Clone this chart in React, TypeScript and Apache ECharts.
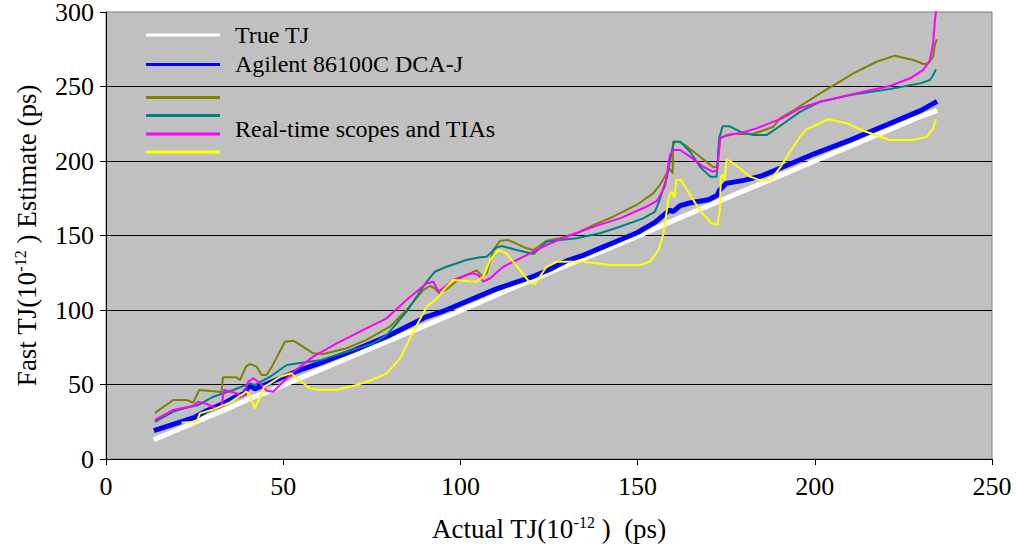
import React, { useEffect, useRef } from "react";
import * as echarts from "echarts";

const FONT = "Times New Roman, Liberation Serif, serif";

const trueTJ: number[][] = [
  [13.5, 13], [20, 19.5], [25, 24.5], [30, 29.5], [35, 34.5], [40, 40], [45, 44.5], [50, 49.5],
  [60, 59.5], [70, 69.5], [80, 79.5], [90, 89.5], [100, 99.5], [110, 110], [120, 120],
  [130, 130], [140, 139.5], [150, 149.5], [160, 160], [170, 170], [180, 180], [190, 190],
  [200, 200], [210, 210], [220, 220], [230, 230], [234.5, 234],
];

const agilent: number[][] = [
  [13.5, 19], [20, 24], [25, 28], [28, 32], [33, 37], [36, 41], [39, 44], [40.5, 49.5], [42, 47],
  [45, 50], [50, 55], [55, 60], [60, 64], [70, 73], [80, 83], [90, 95], [95, 99], [100, 104],
  [105, 109], [110, 114], [115, 118], [120, 122], [125, 127], [130, 133], [135, 137], [140, 142],
  [145, 147], [150, 152], [155, 159], [159, 167], [160, 166], [162, 170], [165, 172], [170, 174],
  [172.5, 177], [173, 180], [175, 185], [180, 187], [185, 190], [190, 195], [200, 205],
  [210, 214], [220, 224], [230, 234], [234.5, 240],
];

const olive: number[][] = [
  [13.8, 31], [19, 39.6], [22.8, 39.6], [24.6, 37.8], [26.3, 46.3], [32.6, 45], [33, 54.8],
  [36.8, 54.8], [37.8, 53], [39.5, 62], [40.6, 63.8], [42.5, 62], [43.9, 56.4], [45.3, 56.4],
  [46.8, 62], [50.5, 78.7], [52.9, 79.4], [58.5, 70.9], [61.3, 70.5], [67.9, 74.3], [73.5, 79.9],
  [80.1, 88.8], [84.8, 100], [89.5, 113.4], [91.4, 116.1], [92.8, 114.6], [94, 111.2],
  [96.1, 113.9], [99.9, 121.3], [102.7, 124.6], [104.6, 126.6], [106.3, 122.4], [107.4, 124.6],
  [109.3, 140.3], [111.2, 146.5], [113.5, 147], [118.7, 141.4], [120.6, 140.3], [124.3, 146.5],
  [128.1, 148.1], [132.8, 151.5], [137.5, 157], [143.1, 162.6], [149.7, 170.5], [154.4, 178.3],
  [156.3, 184], [159, 195], [159.9, 191.7], [160, 213], [161.8, 213], [163.4, 210.7],
  [167.6, 202.9], [171.4, 195.8], [172.5, 196.2], [172.8, 202.9], [173.3, 215.2], [174.2, 216.3],
  [177, 218.1], [182.6, 218.1], [188.3, 223], [190.2, 228.7], [194.9, 235.4], [201.5, 245.4],
  [210.9, 258.8], [217.4, 266.6], [222.6, 270.7], [227.8, 267.8], [230.6, 265.1], [232, 265.5],
  [233.4, 270], [233.9, 277.9], [234.4, 281.7],
];

const teal: number[][] = [
  [13.8, 25], [19, 31.8], [23.7, 35.1], [26, 36.2], [30.3, 41.8], [35.9, 46.3], [40.6, 50.8],
  [42, 49.7], [46.3, 55.2], [51, 63.1], [55.7, 64.8], [60.4, 66.2], [67.9, 72], [75.4, 77.6],
  [79.2, 83.2], [84.8, 98.9], [90.5, 119], [92.8, 125.7], [96.1, 129], [101.7, 133.6],
  [105.5, 135.4], [107.4, 135.8], [110.2, 142], [111.6, 143], [115.9, 140.3], [120.6, 137.6],
  [124.3, 145.8], [128.1, 147], [132.8, 148.1], [139.4, 151.5], [145, 155.9], [151.6, 161.5],
  [154.9, 166], [156.2, 173.8], [158.2, 188.4], [159.6, 206.2], [160.3, 213], [162, 213],
  [164.8, 206.2], [167.6, 196.2], [170.5, 189.5], [172.3, 189.5], [173, 215.2], [174, 223.3],
  [176, 223.3], [178.9, 219.7], [182.6, 217.4], [186.4, 217.4], [190.2, 223.5], [195.8, 233],
  [201.5, 239.8], [210.9, 244.7], [221.2, 248.3], [229.7, 252.1], [232.5, 254.4],
  [233.4, 257.7], [234.2, 261.5],
];

const magenta: number[][] = [
  [13.8, 26.2], [19, 32.9], [24.6, 35.6], [26, 38.5], [28.4, 36.9], [31.2, 34], [32.6, 35.1],
  [33.3, 46.3], [36.8, 44.1], [38.7, 41.8], [40.1, 51.9], [41.6, 54.2], [43.5, 50.8],
  [45.3, 45.8], [47.2, 45.2], [52.9, 58.6], [58.5, 68.7], [65.1, 77.6], [72.6, 86.6],
  [79.2, 94.4], [84.8, 106.7], [90.5, 117.9], [92.4, 119], [93.8, 112.3], [98, 120.1],
  [101.7, 123.5], [103.6, 124.6], [105, 123.5], [106.5, 119], [108.4, 121.3], [112.1, 129],
  [118.7, 136.9], [124.3, 143.6], [130, 149.2], [137.5, 155.9], [145, 161.5], [152.5, 169.3],
  [155.4, 173], [157.7, 182.8], [159.1, 204], [160.1, 207.4], [162, 207.4], [164.8, 202.9],
  [168.5, 196.2], [171.2, 192.8], [172.5, 194], [173.3, 215.2], [175.1, 217.4], [178.9, 218.6],
  [183.6, 221.9], [188.3, 226.4], [190.2, 228], [195.8, 235.4], [201.5, 239.8], [210.9, 245],
  [221.2, 250.3], [226.9, 255.5], [230.6, 261.1], [232.5, 267.8], [233.4, 279], [233.9, 294.6],
  [234.2, 300.2], [234.5, 312],
];

const yellow: number[][] = [
  [21.3, 24.4], [25.6, 25], [26.5, 30.6], [30, 33], [35, 38], [39.7, 45.2], [40.6, 43], [42, 34],
  [43.5, 41.8], [44.6, 48.5], [46.3, 50.8], [49.1, 55.2], [52.2, 57.5], [55, 52], [57.6, 47.4],
  [60, 46.5], [65.1, 46.5], [70.7, 49.7], [75, 53], [79.2, 57.5], [83, 67.5], [86.7, 85.5],
  [90.5, 102.2], [93.3, 107.5], [96.1, 115.7], [98, 120.1], [101.7, 119.5], [104.6, 119],
  [106.5, 122.4], [108.4, 133.6], [110.7, 140.3], [113, 138], [116.8, 126.8], [119.6, 118.3],
  [121, 117.4], [124.3, 129], [127.2, 132.4], [134.7, 132.4], [142.2, 130.2], [150.7, 130.2],
  [153.5, 132.4], [155.9, 140.3], [157.3, 151.5], [158.8, 176], [159.7, 179.4], [160.4, 175],
  [160.9, 187.2], [162.3, 187.2], [165.1, 176], [167.9, 166], [170.8, 158.2], [172.5, 157],
  [173.2, 167.1], [173.5, 189.5], [174.2, 190.6], [174.5, 187.2], [175.1, 200.7], [176, 200.2],
  [178.9, 195], [181.7, 189.5], [184.5, 187.2], [187.4, 187.2], [190.2, 195.5], [193, 206.2],
  [195.8, 216.3], [197.7, 221.2], [203.8, 228], [209, 225.3], [213.7, 220.3], [221.2, 214.1],
  [227.8, 214.1], [231.6, 216.3], [233.4, 221.9], [234.2, 228],
];

const xTicks = { min: 0, max: 250, interval: 50 };
const yTicks = { min: 0, max: 300, interval: 50 };

const legendLabels = ["True TJ", "Agilent 86100C DCA-J", "Real-time scopes and TIAs"];
const colors = ["#ffffff", "#0000ff", "#808000", "#008080", "#ff00ff", "#ffff00"];

export default function App() {
  const ref = useRef<HTMLDivElement>(null);
  useEffect(() => {
    if (!ref.current) return;
    const chart = echarts.init(ref.current, null, { renderer: "svg" });
    const sup = { fontSize: 16, fontFamily: FONT, color: "#000", padding: [0, 0, 14, 0] };
    const lineSeries = (name: string, data: number[][], color: string, width: number) => ({
      type: "line",
      name,
      data,
      showSymbol: false,
      symbol: "none",
      clip: true,
      lineStyle: { color, width },
      itemStyle: { color },
    });
    const legendLine = (y: number, color: string) => ({
      type: "line",
      shape: { x1: 146, y1: y, x2: 220, y2: y },
      style: { stroke: color, lineWidth: 3 },
      z: 100,
    });
    const legendText = (y: number, text: string) => ({
      type: "text",
      x: 235,
      y,
      style: { text, fontSize: 24, fontFamily: FONT, fill: "#000", verticalAlign: "middle" },
      z: 100,
    });
    chart.setOption({
      animation: false,
      backgroundColor: "#ffffff",
      textStyle: { fontFamily: FONT },
      grid: {
        left: 106,
        right: 24,
        top: 12,
        bottom: 89,
        show: true,
        outerBoundsMode: "none",
        containLabel: false,
        backgroundColor: "#c0c0c0",
        borderColor: "#808080",
        borderWidth: 1,
      },
      xAxis: {
        type: "value",
        ...xTicks,
        name: "Actual TJ(10{sup|-12} )  (ps)",
        nameLocation: "middle",
        nameGap: 55,
        nameTextStyle: { fontSize: 27, fontFamily: FONT, color: "#000", rich: { sup } },
        axisLine: { lineStyle: { color: "#000", width: 1 } },
        axisTick: { length: 6, lineStyle: { color: "#000" } },
        axisLabel: { fontSize: 26, fontFamily: FONT, color: "#000", margin: 14 },
        splitLine: { show: false },
      },
      yAxis: {
        type: "value",
        ...yTicks,
        name: "Fast TJ(10{sup|-12} ) Estimate (ps)",
        nameLocation: "middle",
        nameGap: 64,
        nameRotate: 90,
        nameTextStyle: { fontSize: 27, fontFamily: FONT, color: "#000", rich: { sup } },
        axisLine: { show: true, lineStyle: { color: "#000", width: 1 } },
        axisTick: { show: true, length: 6, lineStyle: { color: "#000" } },
        axisLabel: { fontSize: 26, lineHeight: 20, fontFamily: FONT, color: "#000", margin: 12 },
        splitLine: { show: true, showMaxLine: false, showMinLine: false, lineStyle: { color: "#000", width: 1 } },
      },
      graphic: [
        legendLine(35, colors[0]),
        legendText(35, legendLabels[0]),
        legendLine(64.5, colors[1]),
        legendText(64, legendLabels[1]),
        legendLine(97.5, colors[2]),
        legendLine(115.5, colors[3]),
        legendLine(134, colors[4]),
        legendLine(152, colors[5]),
        legendText(129, legendLabels[2]),
      ],
      series: [
        lineSeries("True TJ", trueTJ, colors[0], 5),
        lineSeries("Agilent 86100C DCA-J", agilent, colors[1], 5),
        lineSeries("Scope A", olive, colors[2], 2),
        lineSeries("Scope B", teal, colors[3], 2),
        lineSeries("Scope C", magenta, colors[4], 2),
        lineSeries("Scope D", yellow, colors[5], 2),
      ],
    });
    return () => chart.dispose();
  }, []);
  return <div ref={ref} style={{ position: "absolute", left: 0, top: 0, width: 1016, height: 548 }} />;
}
